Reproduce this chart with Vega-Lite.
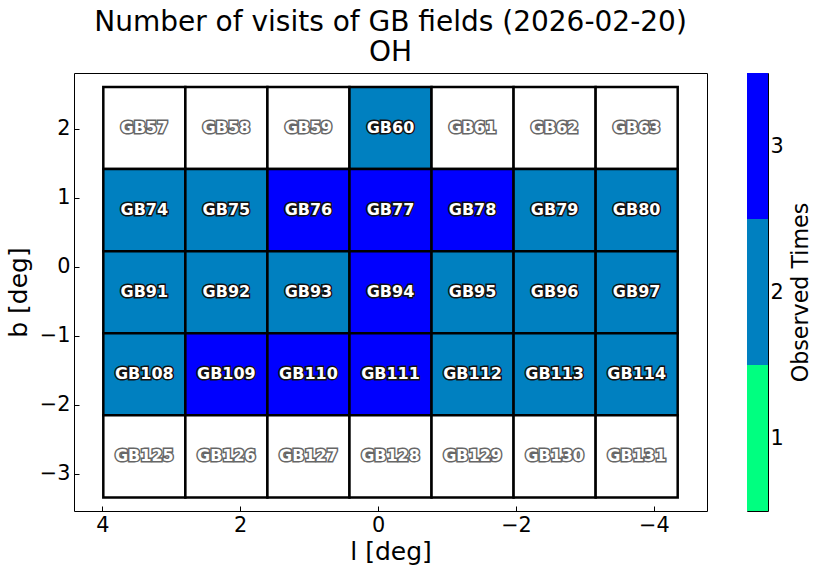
{
  "$schema": "https://vega.github.io/schema/vega-lite/v6.json",
  "background": "white",
  "padding": {"left": 5, "top": 8, "right": 5, "bottom": 5},
  "config": {
    "font": "DejaVu Sans",
    "view": {"stroke": "black", "strokeWidth": 1},
    "axis": {
      "domain": false,
      "grid": false,
      "tickColor": "black",
      "tickSize": -5,
      "tickWidth": 1,
      "labelColor": "black",
      "titleColor": "black",
      "labelFontSize": 20.8,
      "titleFontWeight": "normal",
      "labelPadding": 9,
      "format": "d"
    }
  },
  "spacing": 38,
  "hconcat": [
    {
      "width": 633,
      "height": 438,
      "title": {
        "text": "Number of visits of GB fields (2026-02-20)",
        "subtitle": "OH",
        "fontSize": 28,
        "subtitleFontSize": 28,
        "fontWeight": "normal",
        "color": "black",
        "subtitleColor": "black",
        "anchor": "middle",
        "frame": "group",
        "offset": 6,
        "subtitlePadding": 2
      },
      "data": {
        "values": [
          {"name": "GB57", "l1": 3.985, "l2": 2.795, "lc": 3.39, "b1": 2.607, "b2": 1.417, "bc": 2.012, "count": 0},
          {"name": "GB58", "l1": 2.795, "l2": 1.605, "lc": 2.2, "b1": 2.607, "b2": 1.417, "bc": 2.012, "count": 0},
          {"name": "GB59", "l1": 1.605, "l2": 0.415, "lc": 1.01, "b1": 2.607, "b2": 1.417, "bc": 2.012, "count": 0},
          {"name": "GB60", "l1": 0.415, "l2": -0.775, "lc": -0.18, "b1": 2.607, "b2": 1.417, "bc": 2.012, "count": 2},
          {"name": "GB61", "l1": -0.775, "l2": -1.965, "lc": -1.37, "b1": 2.607, "b2": 1.417, "bc": 2.012, "count": 0},
          {"name": "GB62", "l1": -1.965, "l2": -3.155, "lc": -2.56, "b1": 2.607, "b2": 1.417, "bc": 2.012, "count": 0},
          {"name": "GB63", "l1": -3.155, "l2": -4.345, "lc": -3.75, "b1": 2.607, "b2": 1.417, "bc": 2.012, "count": 0},
          {"name": "GB74", "l1": 3.985, "l2": 2.795, "lc": 3.39, "b1": 1.417, "b2": 0.227, "bc": 0.822, "count": 2},
          {"name": "GB75", "l1": 2.795, "l2": 1.605, "lc": 2.2, "b1": 1.417, "b2": 0.227, "bc": 0.822, "count": 2},
          {"name": "GB76", "l1": 1.605, "l2": 0.415, "lc": 1.01, "b1": 1.417, "b2": 0.227, "bc": 0.822, "count": 3},
          {"name": "GB77", "l1": 0.415, "l2": -0.775, "lc": -0.18, "b1": 1.417, "b2": 0.227, "bc": 0.822, "count": 3},
          {"name": "GB78", "l1": -0.775, "l2": -1.965, "lc": -1.37, "b1": 1.417, "b2": 0.227, "bc": 0.822, "count": 3},
          {"name": "GB79", "l1": -1.965, "l2": -3.155, "lc": -2.56, "b1": 1.417, "b2": 0.227, "bc": 0.822, "count": 2},
          {"name": "GB80", "l1": -3.155, "l2": -4.345, "lc": -3.75, "b1": 1.417, "b2": 0.227, "bc": 0.822, "count": 2},
          {"name": "GB91", "l1": 3.985, "l2": 2.795, "lc": 3.39, "b1": 0.227, "b2": -0.963, "bc": -0.368, "count": 2},
          {"name": "GB92", "l1": 2.795, "l2": 1.605, "lc": 2.2, "b1": 0.227, "b2": -0.963, "bc": -0.368, "count": 2},
          {"name": "GB93", "l1": 1.605, "l2": 0.415, "lc": 1.01, "b1": 0.227, "b2": -0.963, "bc": -0.368, "count": 2},
          {"name": "GB94", "l1": 0.415, "l2": -0.775, "lc": -0.18, "b1": 0.227, "b2": -0.963, "bc": -0.368, "count": 3},
          {"name": "GB95", "l1": -0.775, "l2": -1.965, "lc": -1.37, "b1": 0.227, "b2": -0.963, "bc": -0.368, "count": 2},
          {"name": "GB96", "l1": -1.965, "l2": -3.155, "lc": -2.56, "b1": 0.227, "b2": -0.963, "bc": -0.368, "count": 2},
          {"name": "GB97", "l1": -3.155, "l2": -4.345, "lc": -3.75, "b1": 0.227, "b2": -0.963, "bc": -0.368, "count": 2},
          {"name": "GB108", "l1": 3.985, "l2": 2.795, "lc": 3.39, "b1": -0.963, "b2": -2.153, "bc": -1.558, "count": 2},
          {"name": "GB109", "l1": 2.795, "l2": 1.605, "lc": 2.2, "b1": -0.963, "b2": -2.153, "bc": -1.558, "count": 3},
          {"name": "GB110", "l1": 1.605, "l2": 0.415, "lc": 1.01, "b1": -0.963, "b2": -2.153, "bc": -1.558, "count": 3},
          {"name": "GB111", "l1": 0.415, "l2": -0.775, "lc": -0.18, "b1": -0.963, "b2": -2.153, "bc": -1.558, "count": 3},
          {"name": "GB112", "l1": -0.775, "l2": -1.965, "lc": -1.37, "b1": -0.963, "b2": -2.153, "bc": -1.558, "count": 2},
          {"name": "GB113", "l1": -1.965, "l2": -3.155, "lc": -2.56, "b1": -0.963, "b2": -2.153, "bc": -1.558, "count": 2},
          {"name": "GB114", "l1": -3.155, "l2": -4.345, "lc": -3.75, "b1": -0.963, "b2": -2.153, "bc": -1.558, "count": 2},
          {"name": "GB125", "l1": 3.985, "l2": 2.795, "lc": 3.39, "b1": -2.153, "b2": -3.343, "bc": -2.748, "count": 0},
          {"name": "GB126", "l1": 2.795, "l2": 1.605, "lc": 2.2, "b1": -2.153, "b2": -3.343, "bc": -2.748, "count": 0},
          {"name": "GB127", "l1": 1.605, "l2": 0.415, "lc": 1.01, "b1": -2.153, "b2": -3.343, "bc": -2.748, "count": 0},
          {"name": "GB128", "l1": 0.415, "l2": -0.775, "lc": -0.18, "b1": -2.153, "b2": -3.343, "bc": -2.748, "count": 0},
          {"name": "GB129", "l1": -0.775, "l2": -1.965, "lc": -1.37, "b1": -2.153, "b2": -3.343, "bc": -2.748, "count": 0},
          {"name": "GB130", "l1": -1.965, "l2": -3.155, "lc": -2.56, "b1": -2.153, "b2": -3.343, "bc": -2.748, "count": 0},
          {"name": "GB131", "l1": -3.155, "l2": -4.345, "lc": -3.75, "b1": -2.153, "b2": -3.343, "bc": -2.748, "count": 0}
        ]
      },
      "layer": [
        {
          "mark": {"type": "rect", "stroke": "black", "strokeWidth": 2.5},
          "encoding": {
            "x": {
              "field": "l1", "type": "quantitative",
              "scale": {"domain": [4.41, -4.77], "nice": false, "zero": false},
              "axis": {"values": [4, 2, 0, -2, -4], "title": "l [deg]", "titleFontSize": 25, "titlePadding": 5}
            },
            "x2": {"field": "l2"},
            "y": {
              "field": "b1", "type": "quantitative",
              "scale": {"domain": [-3.54, 2.81], "nice": false, "zero": false},
              "axis": {"values": [-3, -2, -1, 0, 1, 2], "title": "b [deg]", "titleFontSize": 25, "titlePadding": 8}
            },
            "y2": {"field": "b2"},
            "fill": {
              "field": "count", "type": "ordinal",
              "scale": {"domain": [0, 1, 2, 3], "range": ["#ffffff", "#00ff80", "#0080c0", "#0000ff"]},
              "legend": null
            }
          }
        },
        {
          "mark": {"type": "text", "fontSize": 16, "fontWeight": "bold", "fill": "white", "strokeWidth": 3, "baseline": "middle", "align": "center"},
          "encoding": {
            "x": {"field": "lc", "type": "quantitative"},
            "y": {"field": "bc", "type": "quantitative"},
            "text": {"field": "name"},
            "stroke": {"condition": {"test": "datum.count == 0", "value": "#666666"}, "value": "#111111"}
          }
        },
        {
          "mark": {"type": "text", "fontSize": 16, "fontWeight": "bold", "fill": "white", "baseline": "middle", "align": "center"},
          "encoding": {
            "x": {"field": "lc", "type": "quantitative"},
            "y": {"field": "bc", "type": "quantitative"},
            "text": {"field": "name"}
          }
        }
      ]
    },
    {
      "width": 21,
      "height": 438,
      "data": {
        "values": [
          {"v": 1, "lo": 0.5, "hi": 1.5},
          {"v": 2, "lo": 1.5, "hi": 2.5},
          {"v": 3, "lo": 2.5, "hi": 3.5}
        ]
      },
      "mark": {"type": "rect"},
      "encoding": {
        "y": {
          "field": "lo", "type": "quantitative",
          "scale": {"domain": [0.5, 3.5], "nice": false, "zero": false},
          "axis": {"orient": "right", "values": [1, 2, 3], "title": "Observed Times", "titleFontSize": 22.2, "titleAngle": 270, "titleBaseline": "top", "titlePadding": 6, "tickSize": -5, "labelPadding": 7}
        },
        "y2": {"field": "hi"},
        "fill": {
          "field": "v", "type": "ordinal",
          "scale": {"domain": [0, 1, 2, 3], "range": ["#ffffff", "#00ff80", "#0080c0", "#0000ff"]},
          "legend": null
        }
      }
    }
  ],
  "resolve": {"scale": {"fill": "independent"}}
}
